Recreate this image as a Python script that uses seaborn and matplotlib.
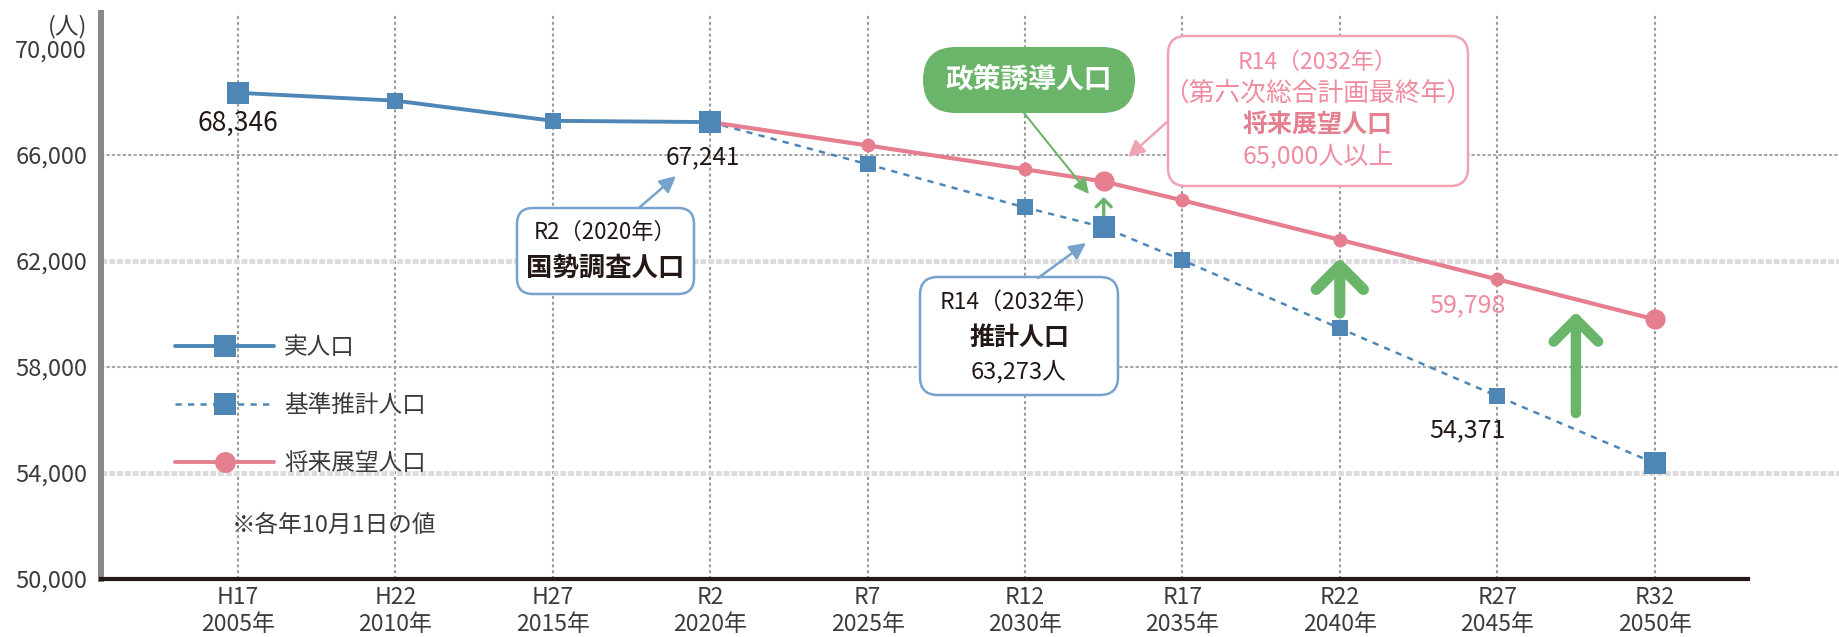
import matplotlib
matplotlib.use("Agg")
import matplotlib.pyplot as plt
import matplotlib.transforms as mtransforms
from matplotlib.lines import Line2D
from matplotlib.patches import FancyBboxPatch
import numpy as np
import pandas as pd
import seaborn as sns

# --- data ---
tick_years = [2005, 2010, 2015, 2020, 2025, 2030, 2035, 2040, 2045, 2050]
era_labels = ["H17", "H22", "H27", "R2", "R7", "R12", "R17", "R22", "R27", "R32"]

actual_years = [2005, 2010, 2015, 2020]
actual_pop = [68346, 68050, 67290, 67241]

proj_years = [2020, 2025, 2030, 2032, 2035, 2040, 2045, 2050]
base_pop = [67241, 65650, 64020, 63273, 62030, 59460, 56900, 54371]
vision_pop = [67241, 66360, 65460, 65000, 64290, 62800, 61310, 59798]

big_years = [2005, 2020, 2032, 2050]
y_ticks = [50000, 54000, 58000, 62000, 66000, 70000]

blue = '#4e87b6'
blue_edge = '#76a2cc'
pink = '#e57e8f'
pink_light = '#f08ca0'
green = '#6ab56a'
dark = '#231815'
gray_txt = '#3e3a39'

# category slots: R14 (2032) sits midway between R12 and R17 in the source
slot = {y: i for i, y in enumerate(tick_years)}
slot[2032] = slot[2030] + 0.5

df_actual = pd.DataFrame({"year": actual_years, "pop": actual_pop})
df_base = pd.DataFrame({"year": proj_years, "pop": base_pop})
df_vision = pd.DataFrame({"year": proj_years, "pop": vision_pop})
for d in (df_actual, df_base, df_vision):
    d["x"] = d["year"].map(slot)

sns.set_theme(style="white")
plt.rcParams['font.family'] = ['Noto Sans CJK JP', 'DejaVu Sans']

W, H = 1839, 637
fig = plt.figure(figsize=(W / 100, H / 100), dpi=100)
ax = fig.add_axes([101 / W, 58 / H, (W - 101) / W, 566 / H])
px = mtransforms.Affine2D().scale(1, -1).translate(0, H)  # image pixels, origin top-left

x_left, x_right = (101 - 238) / 157.4, (W - 238) / 157.4
ax.set_xlim(x_left, x_right)
ax.set_ylim(50000, 71358)

# grid
for i in range(len(tick_years)):
    ax.axvline(i, color='#9a9a9a', lw=1.5, ls=(0, (1.4, 1.4)), zorder=1)
for v in y_ticks[1:-1]:
    if v in (62000, 54000):
        ax.axhline(v, color='#dcdcdc', lw=3.5, ls=(0, (1.2, 0.4)), zorder=1)
    else:
        ax.axhline(v, color='#a8a8a8', lw=1.5, ls=(0, (1.6, 1.0)), zorder=1)

# lines
sns.lineplot(data=df_base, x="x", y="pop", ax=ax, color=blue, lw=1.8,
             linestyle=(0, (2.5, 2.5)), marker='s', markersize=12,
             markeredgewidth=0, zorder=3)
sns.lineplot(data=df_vision, x="x", y="pop", ax=ax, color=pink, lw=3,
             marker='o', markersize=10, markeredgewidth=0, zorder=4)
sns.lineplot(data=df_actual, x="x", y="pop", ax=ax, color=blue, lw=2.8,
             marker='s', markersize=12, markeredgewidth=0, zorder=5)

big_sq = pd.concat([df_actual, df_base])
big_sq = big_sq[big_sq["year"].isin(big_years)]
sns.scatterplot(data=big_sq, x="x", y="pop", ax=ax, marker='s', s=16 ** 2,
                color=blue, linewidth=0, zorder=6)
big_ci = df_vision[df_vision["year"].isin([2032, 2050])]
sns.scatterplot(data=big_ci, x="x", y="pop", ax=ax, marker='o', s=14.5 ** 2,
                color=pink, linewidth=0, zorder=6)

# axes
ax.set_xlabel("")
ax.set_ylabel("")
ax.set_xticks(range(len(tick_years)))
ax.set_xticklabels([f"{e}\n{y}年" for e, y in zip(era_labels, tick_years)],
                   fontsize=16.5, color=gray_txt, linespacing=1.2)
ax.set_yticks(y_ticks)
ax.set_yticklabels([f"{v:,}" for v in y_ticks], fontsize=17, color=gray_txt)
ax.tick_params(axis='x', length=0, pad=5)
ax.tick_params(axis='y', length=0, pad=10)
for s in ('top', 'right'):
    ax.spines[s].set_visible(False)
ax.spines['left'].set_color('#8c8787')
ax.spines['left'].set_linewidth(4.3)
ax.spines['bottom'].set_color(dark)
ax.spines['bottom'].set_linewidth(3)
ax.spines['bottom'].set_bounds(x_left, (1748 - 238) / 157.4)

ax.text(87, 27, "(人)", transform=px, ha='right', va='center', fontsize=17, color=gray_txt)

# value labels
ax.annotate(f"{actual_pop[0]:,}", (slot[2005], actual_pop[0]), xytext=(0, -22),
            textcoords='offset points', ha='center', va='center', fontsize=19, color=dark)
ax.annotate(f"{actual_pop[-1]:,}", (slot[2020], actual_pop[-1]), xytext=(-5, -25),
            textcoords='offset points', ha='center', va='center', fontsize=17.5, color=dark)
ax.annotate(f"{base_pop[-1]:,}", (slot[2050], base_pop[-1]), xytext=(-135, 24),
            textcoords='offset points', ha='center', va='center', fontsize=18, color=dark)
ax.annotate(f"{vision_pop[-1]:,}", (slot[2050], vision_pop[-1]), xytext=(-135, 10),
            textcoords='offset points', ha='center', va='center', fontsize=18, color=pink_light)


def box(x0, y0, w, h, edge, face='white', r=16, lw=1.8):
    p = FancyBboxPatch((x0, y0), w, h, boxstyle=f"round,pad=0,rounding_size={r}",
                       transform=px, facecolor=face, edgecolor=edge, lw=lw, zorder=7)
    ax.add_artist(p)


def label(x, y, s, **kw):
    ax.text(x, y, s, transform=px, ha='center', va='center', zorder=8, **kw)


def arrow(xy_from, xy_to, color, lw=1.8, scale=14):
    ax.annotate('', xy=xy_to, xytext=xy_from, xycoords=px, textcoords=px,
                arrowprops=dict(arrowstyle='-|>,head_length=0.7,head_width=0.35',
                                color=color, lw=lw, shrinkA=0, shrinkB=0,
                                mutation_scale=scale), zorder=8, annotation_clip=False)


# R2 census box
box(517, 208, 177, 86, blue_edge)
label(605, 232, "R2（2020年）", fontsize=16, color=dark)
label(605, 268, "国勢調査人口", fontsize=19, color=dark, weight='bold')
arrow((640, 207), (676, 176), blue_edge)

# R14 projection box
i32 = proj_years.index(2032)
box(920, 277, 198, 118, blue_edge, r=18)
label(1019, 302, "R14（2032年）", fontsize=16.5, color=dark)
label(1019, 338, "推計人口", fontsize=18, color=dark, weight='bold')
label(1019, 372, f"{base_pop[i32]:,}人", fontsize=17, color=dark)
arrow((1038, 278), (1086, 243), blue_edge)

# R14 vision box
box(1168, 36, 300, 150, '#f0a3b2', r=18)
label(1318, 62, "R14（2032年）", fontsize=16.5, color=pink_light)
label(1318, 94, "（第六次総合計画最終年）", fontsize=18.5, color=pink_light)
label(1318, 125, "将来展望人口", fontsize=18, color=pink, weight='bold')
label(1318, 157, f"{vision_pop[i32]:,}人以上", fontsize=18, color=pink_light)
arrow((1167, 122), (1128, 157), '#f0a3b2')

# policy-induced population pill
box(923, 47, 212, 66, green, face=green, r=33, lw=0)
label(1029, 80, "政策誘導人口", fontsize=20, color='white', weight='bold')
arrow((1024, 113), (1089, 194), green, lw=1.5, scale=13)

# green up arrows
ax.annotate('', xy=(slot[2032], 64415), xytext=(slot[2032], 63698),
            arrowprops=dict(arrowstyle='->,head_length=0.45,head_width=0.45', color=green,
                            lw=2.4, shrinkA=0, shrinkB=0, mutation_scale=12), zorder=5)
ax.annotate('', xy=(slot[2040], 62113), xytext=(slot[2040], 60038),
            arrowprops=dict(arrowstyle='->,head_length=0.85,head_width=0.85', color=green,
                            lw=8, shrinkA=0, shrinkB=0, mutation_scale=20), zorder=5)
ax.annotate('', xy=(slot[2045] + 0.5, 60075), xytext=(slot[2045] + 0.5, 56264),
            arrowprops=dict(arrowstyle='->,head_length=0.8,head_width=0.8', color=green,
                            lw=7.5, shrinkA=0, shrinkB=0, mutation_scale=20), zorder=5)

# legend
handles = [
    Line2D([], [], color=blue, lw=2.8, marker='s', ms=16, mew=0),
    Line2D([], [], color=blue, lw=1.8, ls=(0, (2.5, 2.5)), marker='s', ms=16, mew=0),
    Line2D([], [], color=pink, lw=2.8, marker='o', ms=15, mew=0),
]
ax.legend(handles, ["実人口", "基準推計人口", "将来展望人口"], loc='upper left',
          bbox_to_anchor=(175, 336), bbox_transform=px, frameon=False, fontsize=17,
          handlelength=4.2, handletextpad=0.42, labelspacing=1.48, borderpad=0,
          borderaxespad=0, labelcolor=gray_txt)

ax.text(232, 525, "※各年10月1日の値", transform=px, ha='left', va='center',
        fontsize=17, color=gray_txt)

plt.savefig("out.png", dpi=100)
